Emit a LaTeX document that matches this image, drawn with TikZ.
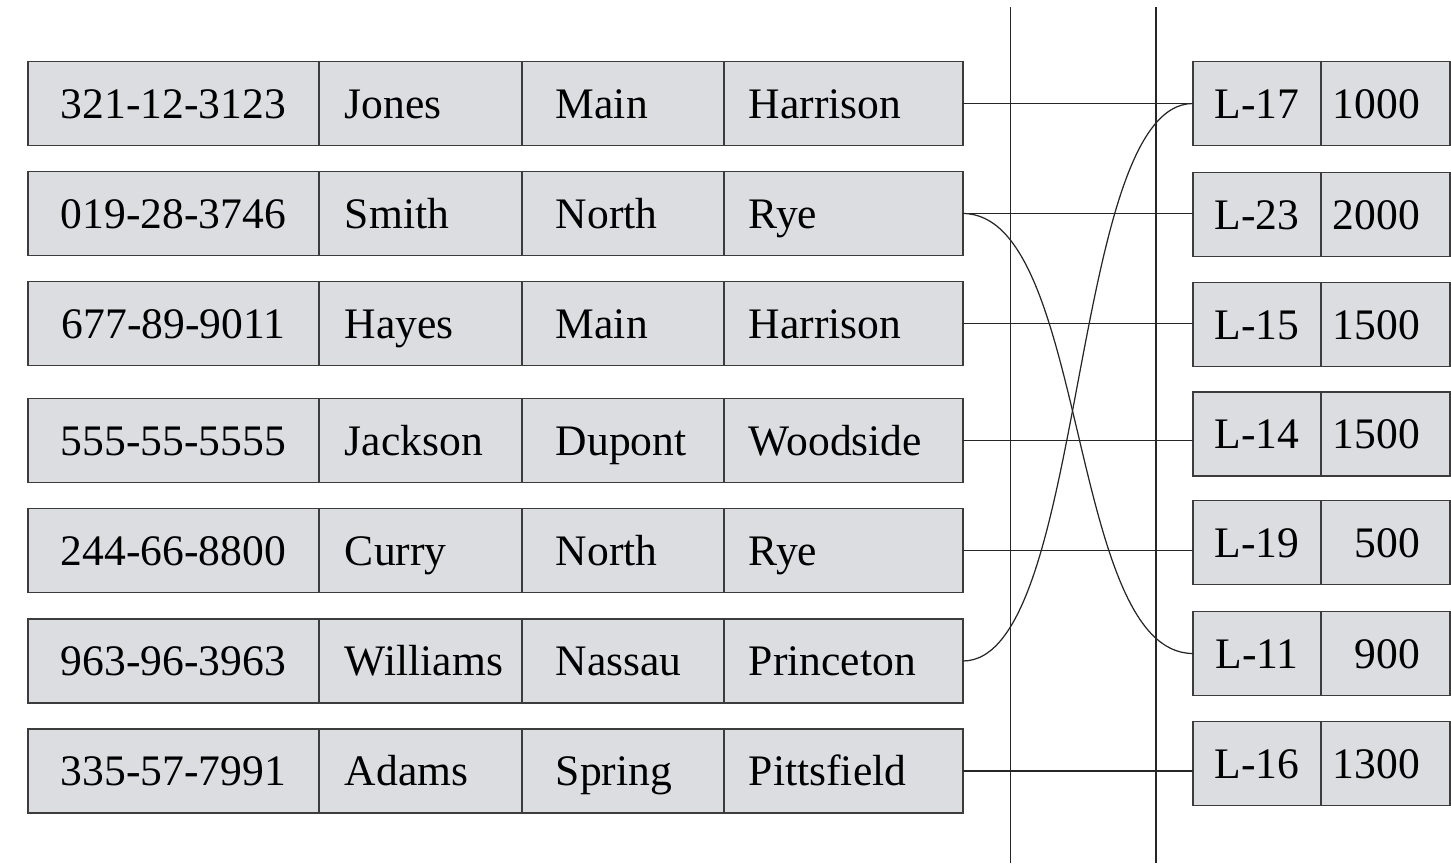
\documentclass[tikz,border=0pt]{standalone}
\usepackage{fontspec}
\setmainfont{Liberation Serif}
\usetikzlibrary{positioning}

\definecolor{boxgray}{RGB}{220,221,224}
\definecolor{edgegray}{RGB}{60,60,60}

\tikzset{
  cell/.style={draw=edgegray, fill=boxgray, line width=0.9pt, outer sep=0pt,
    inner xsep=0pt, inner ysep=0pt, minimum height=1.68cm,
    text height=16.9pt, text depth=0pt, font=\fontsize{24.8}{30}\selectfont},
  idcell/.style={cell, anchor=west, text width=5.82cm, align=center},
  namecell/.style={cell, text width=4.06cm, align=left,
    execute at begin node={\hspace*{0.52cm}}},
  streetcell/.style={cell, text width=4.04cm, align=left,
    execute at begin node={\hspace*{0.68cm}}},
  citycell/.style={cell, text width=4.78cm, align=left,
    execute at begin node={\hspace*{0.5cm}}},
  loancell/.style={cell, anchor=west, text width=2.56cm, align=center},
  amtcell/.style={cell, text width=2.58cm, align=right,
    execute at end node={\hspace*{0.6cm}}},
  link/.style={draw=black!85, line width=0.7pt},
  rail/.style={draw=black!85, line width=0.8pt}
}

\begin{document}
\begin{tikzpicture}[x=0.02cm, y=-0.02cm]
  \useasboundingbox (0,0) rectangle (1451,863);

  % the two rails
  \coordinate (ra) at (1010.5,7);
  \coordinate (rb) at (1156,7);
  \draw[rail] (ra) -- (ra |- 0,863);
  \draw[rail] (rb) -- (rb |- 0,863);

  % depositor rows
  \node[idcell] (id1) at (28,103.5) {321-12-3123};
  \node[namecell, right=0pt of id1] (nm1) {Jones};
  \node[streetcell, right=0pt of nm1] (st1) {Main};
  \node[citycell, right=0pt of st1] (ct1) {Harrison};

  \node[idcell] (id2) at (28,213.5) {019-28-3746};
  \node[namecell, right=0pt of id2] (nm2) {Smith};
  \node[streetcell, right=0pt of nm2] (st2) {North};
  \node[citycell, right=0pt of st2] (ct2) {Rye};

  \node[idcell] (id3) at (28,323.5) {677-89-9011};
  \node[namecell, right=0pt of id3] (nm3) {Hayes};
  \node[streetcell, right=0pt of nm3] (st3) {Main};
  \node[citycell, right=0pt of st3] (ct3) {Harrison};

  \node[idcell] (id4) at (28,440.5) {555-55-5555};
  \node[namecell, right=0pt of id4] (nm4) {Jackson};
  \node[streetcell, right=0pt of nm4] (st4) {Dupont};
  \node[citycell, right=0pt of st4] (ct4) {Woodside};

  \node[idcell] (id5) at (28,550.5) {244-66-8800};
  \node[namecell, right=0pt of id5] (nm5) {Curry};
  \node[streetcell, right=0pt of nm5] (st5) {North};
  \node[citycell, right=0pt of st5] (ct5) {Rye};

  \node[idcell] (id6) at (28,661) {963-96-3963};
  \node[namecell, right=0pt of id6] (nm6) {Williams};
  \node[streetcell, right=0pt of nm6] (st6) {Nassau};
  \node[citycell, right=0pt of st6] (ct6) {Princeton};

  \node[idcell] (id7) at (28,771) {335-57-7991};
  \node[namecell, right=0pt of id7] (nm7) {Adams};
  \node[streetcell, right=0pt of nm7] (st7) {Spring};
  \node[citycell, right=0pt of st7] (ct7) {Pittsfield};

  % loan rows
  \node[loancell] (l17) at (1193,103.5) {L-17};
  \node[amtcell, right=0pt of l17] (a17) {1000};
  \node[loancell] (l23) at (1193,214.5) {L-23};
  \node[amtcell, right=0pt of l23] (a23) {2000};
  \node[loancell] (l15) at (1193,324.5) {L-15};
  \node[amtcell, right=0pt of l15] (a15) {1500};
  \node[loancell] (l14) at (1193,434) {L-14};
  \node[amtcell, right=0pt of l14] (a14) {1500};
  \node[loancell] (l19) at (1193,542.5) {L-19};
  \node[amtcell, right=0pt of l19] (a19) {500};
  \node[loancell] (l11) at (1193,653.5) {L-11};
  \node[amtcell, right=0pt of l11] (a11) {900};
  \node[loancell] (l16) at (1193,763.5) {L-16};
  \node[amtcell, right=0pt of l16] (a16) {1300};

  % pointers
  \draw[link] (ct1.east) -- (ct1.east -| l17.west);
  \draw[link] (ct2.east) -- (ct2.east -| l23.west);
  \draw[link] (ct3.east) -- (ct3.east -| l15.west);
  \draw[link] (ct4.east) -- (ct4.east -| l14.west);
  \draw[link] (ct5.east) -- (ct5.east -| l19.west);
  \draw[link] (ct7.east) -- (ct7.east -| l16.west);
  \draw[link] (ct2.east) .. controls +(126,0) and +(-126,0) .. (l11.west);
  \draw[link] (ct6.east) .. controls +(125,0) and +(-125,0) .. (l17.west);
\end{tikzpicture}
\end{document}
